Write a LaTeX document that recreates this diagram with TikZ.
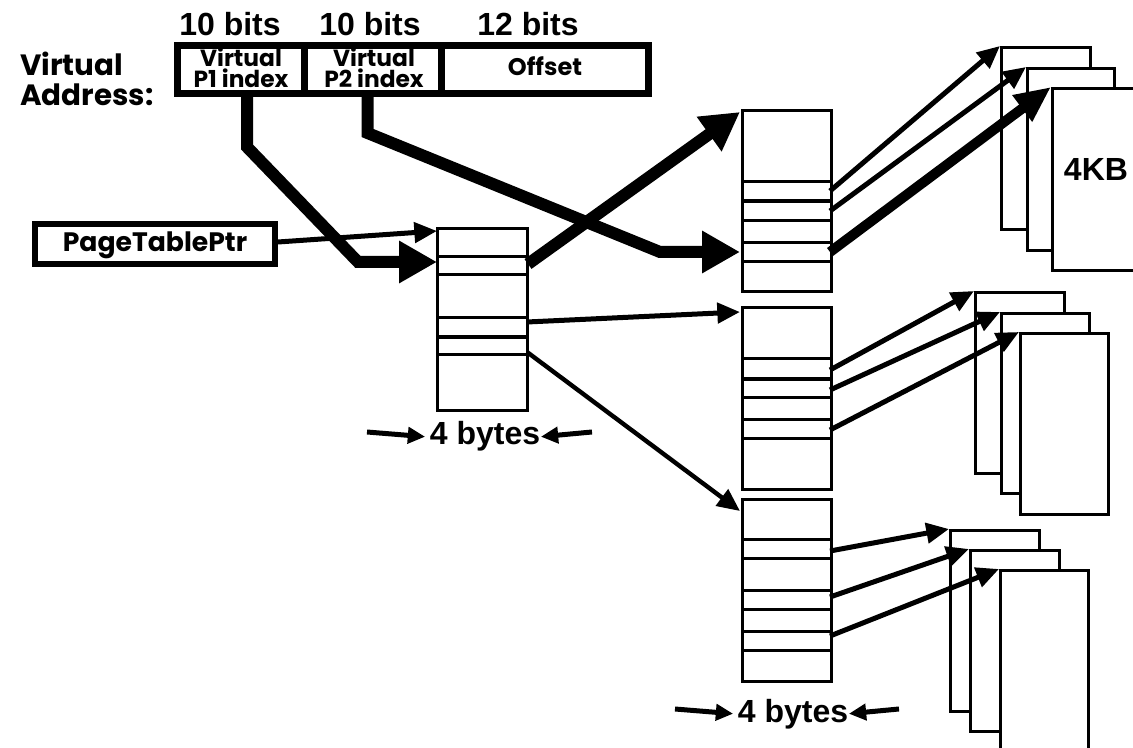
\documentclass[tikz,border=0pt]{standalone}
\usepackage{fontspec}
\setmainfont{Liberation Sans}
\newfontfamily\comic{Poppins}
\usetikzlibrary{arrows.meta}
\begin{document}
\begin{tikzpicture}[x=0.75pt,y=-0.75pt,
  tbl/.style={draw,line width=2.25pt,fill=white},
  rowline/.style={line width=2.25pt},
  rowthick/.style={line width=3.6pt},
  pagebox/.style={draw,line width=1.9pt,fill=white,inner sep=0pt,anchor=north west},
  bigarr/.style={line width=9pt,line join=miter,-{Triangle[length=28.5pt,width=30pt]}},
  fatarr/.style={line width=7.5pt,-{Triangle[length=27pt,width=23pt]}},
  medarr/.style={line width=3.75pt,-{Triangle[length=17pt,width=15pt]}},
  smallarr/.style={line width=3.75pt,-{Triangle[length=13pt,width=12pt]}},
  bitslbl/.style={font=\bfseries\fontsize{24}{24}\selectfont,anchor=base,inner sep=0pt},
  cell/.style={font=\comic\bfseries\fontsize{17.5}{16}\selectfont,align=center,inner sep=0pt,anchor=base},
  bytelbl/.style={font=\bfseries\fontsize{24}{24}\selectfont,anchor=base}
]
\useasboundingbox (0,0) rectangle (1133,748);
\clip (0,0) rectangle (1133,748);

% ---------- virtual address ----------
\node[font=\comic\bfseries\fontsize{22}{22.5}\selectfont,align=left,anchor=base west,inner sep=0pt] (vlab) at (20,106) {Virtual\\Address:};

\node[bitslbl] (b1) at (230,36) {10 bits};
\node[bitslbl] (b2) at (370,36) {10 bits};
\node[bitslbl] (b3) at (528,36) {12 bits};

\node[cell] (c1) at (241,87.5) {Virtual\\P1~index};
\node[cell] (c2) at (374,87.5) {Virtual\\P2~index};
\node[cell,font=\comic\bfseries\fontsize{18}{18}\selectfont] (c3) at (545,76) {Offset};

\draw[line width=5.25pt] (177.5,45.5) rectangle (648.5,93.5);
\draw[line width=5.25pt] (304.5,45.5) -- (304.5,93.5);
\draw[line width=5.25pt] (441.5,45.5) -- (441.5,93.5);
\coordinate (p1stem) at (247,93);
\coordinate (p2stem) at (367.5,93);

% ---------- PageTablePtr ----------
\node[draw,line width=4.5pt,minimum width=240*0.75pt,minimum height=40*0.75pt,inner sep=0pt] (ptr) at (155,244) {};
\node[font=\comic\bfseries\fontsize{20}{20}\selectfont,anchor=base] (ptrtxt) at (155,252) {PageTablePtr};

% ---------- pages (behind) ----------
\node[pagebox,minimum width=89*0.75pt,minimum height=182*0.75pt] (g1a) at (1000,46) {};
\node[pagebox,minimum width=87*0.75pt,minimum height=182*0.75pt] (g1b) at (1026,67) {};
\node[pagebox,minimum width=110*0.75pt,minimum height=182*0.75pt] (g1c) at (1051,87) {};
\node[font=\bfseries\fontsize{24}{24}\selectfont] (kb) at (1096,169) {4KB};

\node[pagebox,minimum width=89*0.75pt,minimum height=181*0.75pt] (g2a) at (974,291) {};
\node[pagebox,minimum width=88*0.75pt,minimum height=180*0.75pt] (g2b) at (1000,312) {};
\node[pagebox,minimum width=88*0.75pt,minimum height=181*0.75pt] (g2c) at (1019,332) {};

\node[pagebox,minimum width=89*0.75pt,minimum height=181*0.75pt] (g3a) at (949,529) {};
\node[pagebox,minimum width=89*0.75pt,minimum height=181*0.75pt] (g3b) at (969,549) {};
\node[pagebox,minimum width=88*0.75pt,minimum height=195*0.75pt] (g3c) at (999,569) {};

% ---------- first-level table ----------
\draw[tbl] (437,229) rectangle (527,411);
\foreach \yy in {257,275,318,355} \draw[rowline] (437,\yy) -- (527,\yy);
\draw[rowthick] (437,337) -- (527,337);
\coordinate (t1in1) at (437,231);
\coordinate (t1in2) at (437,262);
\coordinate (t1o1) at (528,264);
\coordinate (t1o2) at (527,322);
\coordinate (t1o3) at (527,352);

% ---------- second-level tables ----------
\draw[tbl] (742,111) rectangle (831,292);
\foreach \yy in {182,221,243,262} \draw[rowline] (742,\yy) -- (831,\yy);
\draw[rowthick] (742,201) -- (831,201);
\coordinate (tAin1) at (740,112);
\coordinate (tAin2) at (740,252);
\coordinate (tAo1) at (830,191);
\coordinate (tAo2) at (830,211);
\coordinate (tAo3) at (830,252);

\draw[tbl] (742,308) rectangle (831,490);
\foreach \yy in {359,398,420,439} \draw[rowline] (742,\yy) -- (831,\yy);
\draw[rowthick] (742,379) -- (831,379);
\coordinate (tBin) at (740,312);
\coordinate (tBo1) at (830,370);
\coordinate (tBo2) at (830,390);
\coordinate (tBo3) at (830,430);

\draw[tbl] (742,500) rectangle (831,682);
\foreach \yy in {540,559,591,610,632,651} \draw[rowline] (742,\yy) -- (831,\yy);
\coordinate (tCin) at (740,511);
\coordinate (tCo1) at (830,551);
\coordinate (tCo2) at (830,597);
\coordinate (tCo3) at (830,636);

% ---------- arrows ----------
\draw[medarr] (ptr.east) ++(0,-2) -- (t1in1);
\draw[bigarr] (p1stem) -- (247,147) -- (358,262) -- (t1in2);
\draw[bigarr] (p2stem) -- (367.5,133) -- (660,252) -- (tAin2);
\draw[bigarr] (t1o1) -- (tAin1);
\draw[medarr] (t1o2) -- (tBin);
\draw[medarr,line width=3.3pt] (t1o3) -- (tCin);

\draw[medarr] (tAo1) -- (g1a.north west);
\draw[medarr] (tAo2) -- (g1b.north west);
\draw[fatarr] (tAo3) -- (g1c.north west);

\draw[medarr] (tBo1) -- (g2a.north west);
\draw[medarr] (tBo2) -- (g2b.north west);
\draw[medarr] (tBo3) -- (g2c.north west);

\draw[medarr] (tCo1) -- (g3a.north west);
\draw[medarr] (tCo2) -- (g3b.north west);
\draw[medarr] (tCo3) -- (g3c.north west);

% ---------- 4 bytes labels ----------
\node[bytelbl] (by1) at (485,445) {4 bytes};
\coordinate (by1l) at (367,432);
\coordinate (by1r) at (592,432);
\draw[smallarr] (by1l) -- (by1.west);
\draw[smallarr] (by1r) -- ([xshift=-3]by1.east);

\node[bytelbl] (by2) at (793,722) {4 bytes};
\coordinate (by2l) at (675,709);
\coordinate (by2r) at (899,709);
\draw[smallarr] (by2l) -- (by2.west);
\draw[smallarr] (by2r) -- ([xshift=-3]by2.east);
\end{tikzpicture}
\end{document}
